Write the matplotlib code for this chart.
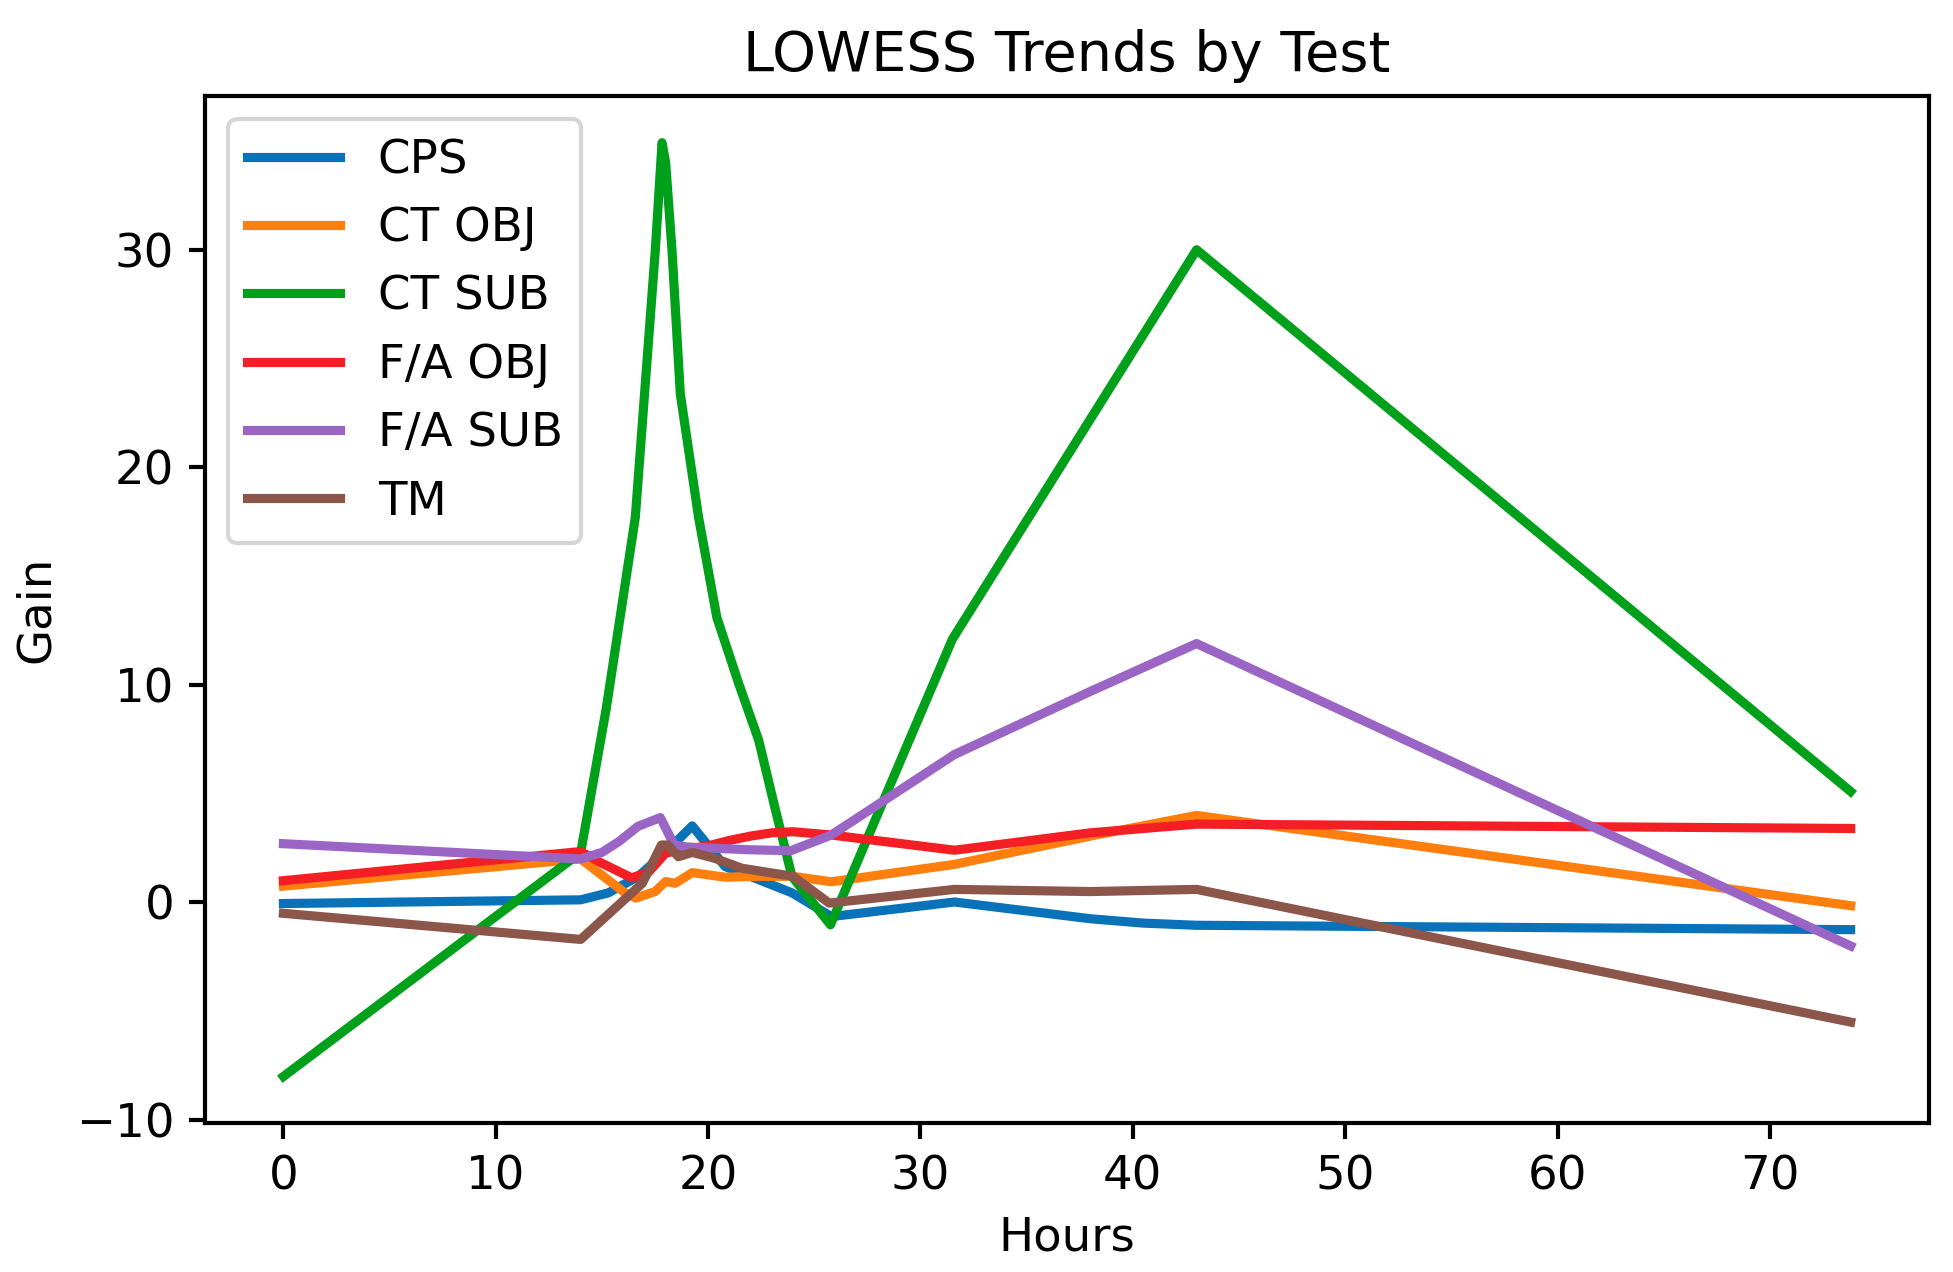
import matplotlib
matplotlib.use("Agg")
import matplotlib.pyplot as plt

# ---- data ----
cps_x = [0, 14, 15.3, 16.7, 18.1, 19.25, 20.8, 22.4, 23.95, 25.8, 31.6, 38, 40.5, 43, 73.8]
cps_y = [-0.05, 0.12, 0.44, 1.19, 2.41, 3.52, 1.65, 1.04, 0.44, -0.65, 0.02, -0.75, -0.95, -1.05, -1.25]

ctobj_x = [0, 14, 15, 16.1, 16.6, 17.5, 18.0, 18.45, 19.25, 20.8, 22.4, 24, 25.8, 31.6, 38, 43, 73.8]
ctobj_y = [0.75, 2.0, 1.25, 0.43, 0.2, 0.5, 0.96, 0.88, 1.37, 1.16, 1.2, 1.2, 0.95, 1.75, 3.05, 4.0, -0.15]

ctsub_x = [0, 14, 15.2, 16.57, 17.51, 17.83, 18.0, 18.3, 18.69, 19.55, 20.41, 21.44, 22.38, 23.17, 23.95, 25.76, 31.5, 43, 73.8]
ctsub_y = [-8.0, 2.3, 8.9, 17.7, 29.95, 34.92, 34.0, 29.95, 23.37, 17.7, 13.1, 10.06, 7.46, 4.25, 1.19, -1.03, 12.1, 30.0, 5.1]

faobj_x = [0, 14, 15, 16.4, 17.2, 18, 19, 20, 21, 22, 23, 24, 25.8, 31.6, 38, 43, 73.8]
faobj_y = [1.0, 2.34, 1.8, 1.13, 1.4, 2.27, 2.45, 2.6, 2.85, 3.05, 3.2, 3.25, 3.1, 2.4, 3.2, 3.6, 3.4]

fasub_x = [0, 14, 15, 15.8, 16.7, 17.75, 18.4, 19, 20, 22, 23.9, 25.8, 31.6, 38, 43, 73.8]
fasub_y = [2.7, 2.0, 2.3, 2.8, 3.5, 3.9, 2.64, 2.55, 2.5, 2.42, 2.38, 3.1, 6.8, 9.7, 11.9, -2.0]

tm_x = [0, 14, 16.9, 17.8, 18.1, 18.6, 19.25, 20.3, 21.6, 24, 25.7, 31.6, 38, 43, 73.8]
tm_y = [-0.5, -1.7, 0.88, 2.64, 2.64, 2.1, 2.3, 2.03, 1.57, 1.2, -0.03, 0.6, 0.5, 0.6, -5.5]

labels = ["CPS", "CT OBJ", "CT SUB", "F/A OBJ", "F/A SUB", "TM"]
colors = ["#0a72b8", "#ff7f0e", "#00a01a", "#f41f24", "#9b65c6", "#8c564b"]

series = [(cps_x, cps_y), (ctobj_x, ctobj_y), (ctsub_x, ctsub_y),
          (faobj_x, faobj_y), (fasub_x, fasub_y), (tm_x, tm_y)]

fig = plt.figure(figsize=(1953/300, 1272/300), dpi=300)
ax = fig.add_axes([0.105, 0.117, 0.8827, 0.8075])

for (xs, ys), lab, c in zip(series, labels, colors):
    ax.plot(xs, ys, color=c, lw=2.2, label=lab)

fs = 11.2
ax.set_title("LOWESS Trends by Test", fontsize=13.4)
ax.set_xlabel("Hours", fontsize=fs)
ax.set_ylabel("Gain", fontsize=fs)
ax.set_xticks([0, 10, 20, 30, 40, 50, 60, 70])
ax.set_yticks([-10, 0, 10, 20, 30])
ax.tick_params(labelsize=fs, width=1.0, length=3.9)
for sp in ax.spines.values():
    sp.set_linewidth(1.0)
ax.legend(loc="upper left", fontsize=fs)

fig.savefig("out.png", dpi=300)
